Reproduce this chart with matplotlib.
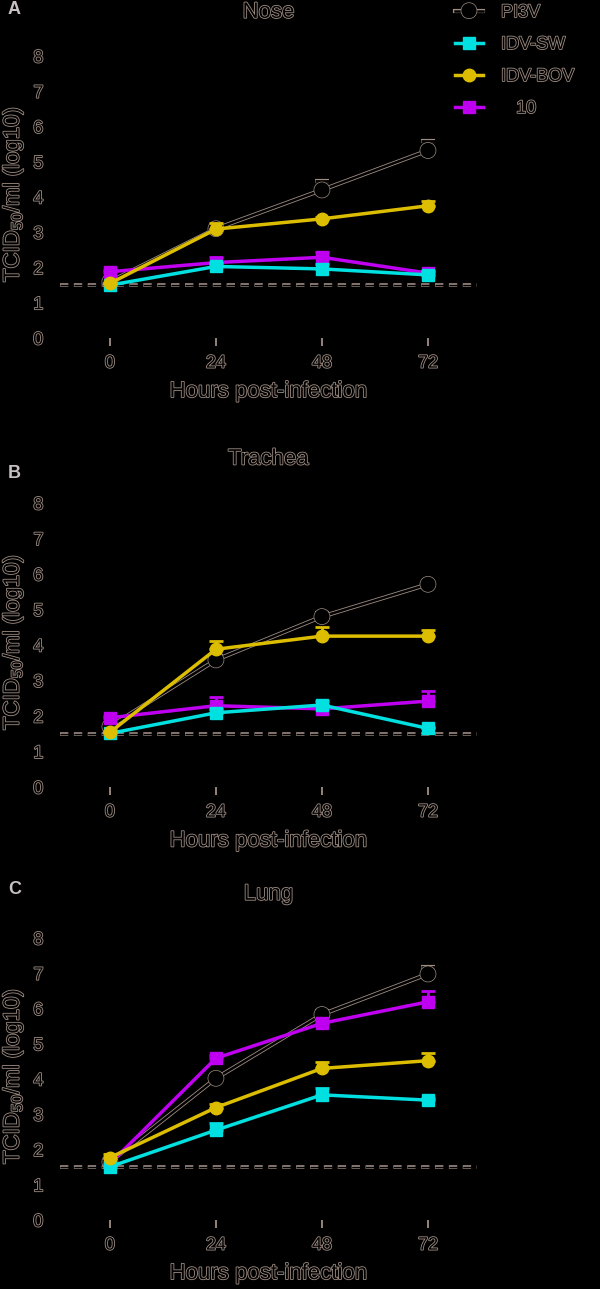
import matplotlib
matplotlib.use("Agg")
import matplotlib.pyplot as plt
import matplotlib.patheffects as pe
import numpy as np

plt.rcParams['font.family'] = ['Liberation Sans', 'DejaVu Sans']
plt.rcParams['mathtext.default'] = 'regular'

hours = [0, 24, 48, 72]
series = ['PI3V', 'IDV-SW', 'IDV-BOV', '   10']
tissues = ['Nose', 'Trachea', 'Lung']
letters = ['A', 'B', 'C']

# mean titers (log10 TCID50/ml) and upper error
nose_pi3v = [1.6, 3.1, 4.2, 5.32]
nose_sw = [1.5, 2.03, 1.96, 1.79]
nose_bov = [1.55, 3.09, 3.38, 3.75]
nose_10 = [1.88, 2.14, 2.29, 1.84]
nose_err_pi3v = [0.0, 0.05, 0.25, 0.28]
nose_err_sw = [0.05, 0.1, 0.15, 0.1]
nose_err_bov = [0.0, 0.17, 0.05, 0.15]
nose_err_10 = [0.05, 0.15, 0.16, 0.05]

trachea_pi3v = [1.7, 3.58, 4.8, 5.71]
trachea_sw = [1.51, 2.09, 2.31, 1.65]
trachea_bov = [1.54, 3.88, 4.25, 4.25]
trachea_10 = [1.95, 2.29, 2.2, 2.42]
trachea_err_pi3v = [0.05, 0.1, 0.1, 0.05]
trachea_err_sw = [0.05, 0.1, 0.1, 0.05]
trachea_err_bov = [0.05, 0.24, 0.25, 0.17]
trachea_err_10 = [0.05, 0.25, 0.1, 0.29]

lung_pi3v = [1.65, 4.02, 5.83, 6.98]
lung_sw = [1.51, 2.55, 3.55, 3.4]
lung_bov = [1.77, 3.19, 4.3, 4.52]
lung_10 = [1.6, 4.59, 5.58, 6.19]
lung_err_pi3v = [0.05, 0.1, 0.1, 0.19]
lung_err_sw = [0.05, 0.19, 0.2, 0.05]
lung_err_bov = [0.1, 0.1, 0.19, 0.23]
lung_err_10 = [0.05, 0.1, 0.1, 0.31]

detection_limit = 1.5

panels = [
    (nose_pi3v, nose_sw, nose_bov, nose_10, nose_err_pi3v, nose_err_sw, nose_err_bov, nose_err_10),
    (trachea_pi3v, trachea_sw, trachea_bov, trachea_10, trachea_err_pi3v, trachea_err_sw, trachea_err_bov, trachea_err_10),
    (lung_pi3v, lung_sw, lung_bov, lung_10, lung_err_pi3v, lung_err_sw, lung_err_bov, lung_err_10),
]

tan = '#a08e84'
cyan = '#00e0e0'
yellow = '#dcbd00'
magenta = '#bf00f0'
# hollow look: black glyphs with a thin tan rim
outline = [pe.withStroke(linewidth=1.2, foreground=tan)]
line_outline = [pe.Stroke(linewidth=3.0, foreground=tan), pe.Normal()]

fig = plt.figure(figsize=(6, 12.89), dpi=100, facecolor='black')
bottoms = [1 - 338 / 1289, 1 - 787 / 1289, 1 - 1220 / 1289]
heights = [282 / 1289, 284 / 1289, 282 / 1289]

handles = []
for i, (ax_b, ax_h) in enumerate(zip(bottoms, heights)):
    ax = fig.add_axes([0.1, ax_b, 0.695, ax_h], facecolor='black')
    pi3v, sw, bov, v10, e_pi3v, e_sw, e_bov, e_10 = panels[i]

    ax.axhline(detection_limit, color='black', lw=1.0, ls=(0, (6, 4)),
               path_effects=[pe.Stroke(linewidth=2.6, foreground=tan), pe.Normal()], zorder=1)

    z = np.zeros(4)
    c1 = ax.errorbar(hours, pi3v, yerr=[z, e_pi3v], color='black', lw=1.8, marker='o', ms=9,
                     mfc='black', mec='black', mew=2, capsize=5, capthick=1.5, elinewidth=1.5, zorder=2)
    for art in [c1[0]] + list(c1[1]) + list(c1[2]):
        art.set_path_effects(line_outline)
    c2 = ax.errorbar(hours, v10, yerr=[z, e_10], color=magenta, lw=2.5, marker='s', ms=9,
                     capsize=5, capthick=2, elinewidth=2, zorder=3)
    c3 = ax.errorbar(hours, sw, yerr=[z, e_sw], color=cyan, lw=2.5, marker='s', ms=9,
                     capsize=5, capthick=2, elinewidth=2, zorder=4)
    c4 = ax.errorbar(hours, bov, yerr=[z, e_bov], color=yellow, lw=2.5, marker='o', ms=9,
                     capsize=5, capthick=2, elinewidth=2, zorder=5)
    if i == 0:
        handles = [c1[0], c3[0], c4[0], c2[0]]

    ax.set_xlim(-11.3, 83.1)
    ax.set_ylim(0, 8)
    for s in ax.spines.values():
        s.set_visible(False)
    ax.set_xticks(hours)
    ax.set_yticks(range(0, 9))
    ax.tick_params(axis='x', length=6, width=1.3, color=tan, pad=6, labelsize=13)
    ax.tick_params(axis='y', length=0, pad=12, labelsize=13)
    for lab in ax.get_xticklabels() + ax.get_yticklabels():
        lab.set_color('black')
        lab.set_path_effects(outline)

    ax.set_ylabel(r'TCID$_{50}$/ml (log10)', fontsize=16, color='black', path_effects=outline, va='center')
    ax.yaxis.set_label_coords(-0.112, 0.51)
    ax.set_xlabel('Hours post-infection', fontsize=16, color='black', path_effects=outline, va='center')
    ax.xaxis.set_label_coords(0.5, -0.19)
    ax.text(0.5, 1.155, tissues[i], transform=ax.transAxes, ha='center', va='center',
            fontsize=16, color='black', path_effects=outline)

fig.text(0.013, 1 - 9 / 1289, 'A', fontsize=13, fontweight='bold', color='#c8c0c0', va='center')
fig.text(0.013, 1 - 473 / 1289, 'B', fontsize=13, fontweight='bold', color='#c8c0c0', va='center')
fig.text(0.013, 1 - 890 / 1289, 'C', fontsize=13, fontweight='bold', color='#c8c0c0', va='center')

leg = fig.legend(handles, series, loc='upper left', bbox_to_anchor=(455 / 600, 1 - 4 / 1289),
                 frameon=False, borderpad=0, borderaxespad=0, fontsize=13,
                 handlelength=1.55, handletextpad=1.0, labelspacing=0.83)
for t in leg.get_texts():
    t.set_color('black')
    t.set_path_effects(outline)

fig.savefig('out.png', dpi=100, facecolor='black')
